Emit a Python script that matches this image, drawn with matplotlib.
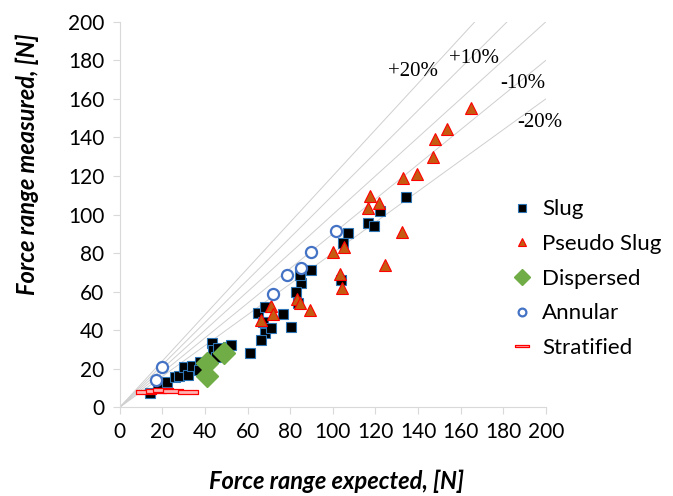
import numpy as np
import matplotlib
matplotlib.use("Agg")
import matplotlib.pyplot as plt

# values
slug_x = [14, 18, 22, 26, 28, 30, 32, 34, 37.5, 37, 43.5, 43.7, 45.4, 46, 50.6, 52.4, 61,
          64.8, 67.1, 68.1, 66.5, 68.1, 71.2, 76.4, 80.6, 90, 85.3, 82.6, 83.7, 84.5, 104,
          134.3, 122, 116.6, 119.2, 107, 104.8]
slug_y = [7.4, 9.9, 13.1, 15.6, 16.1, 20.9, 16.6, 21.5, 23.5, 19.2, 33.1, 29.6, 26.1, 30.6,
          31.3, 32.2, 27.9, 48.8, 44.3, 38.4, 34.8, 52.1, 41, 48.3, 41.7, 71.2, 64.3, 59.9,
          53.9, 68.6, 66, 109.2, 101.8, 95.7, 94, 90.2, 85]

pseudo_x = [70.8, 71.7, 66.5, 83.4, 84.8, 89.5, 103.3, 104.4, 133, 117.4, 121.7, 116.6,
            132.5, 99.9, 105.2, 124.4, 164.8, 153.4, 147.9, 147.1, 139.3]
pseudo_y = [52.5, 48.2, 45.2, 55.9, 54.2, 50.4, 69.1, 61.7, 118.8, 109.6, 106.1, 103.2,
            90.8, 80.7, 83, 73.8, 155.2, 144.3, 139.1, 130, 121]

dispersed_x = [41, 41, 49]
dispersed_y = [23, 16, 28]

annular_x = [17, 20, 71.7, 78.7, 85.3, 90, 101.7]
annular_y = [14, 21, 58.5, 68.6, 72.4, 80.7, 91.4]

strat_x = [12.5, 17, 20.5, 25, 32]
strat_y = [8, 8.5, 9, 8.6, 8]

band_slopes = [1.2, 1.1, 1.0, 0.9, 0.8]
band_labels = ["+20%", "+10%", "-10%", "-20%"]

fig = plt.figure(figsize=(6.73, 4.96), dpi=100)
ax = fig.add_axes([0.178, 0.179, 0.633, 0.777])

for s in band_slopes:
    xs = np.array([0, 200])
    ax.plot(xs, s * xs, color="#cfcfcf", lw=0.7, zorder=1)

dash = [(-1, -0.22), (1, -0.22), (1, 0.22), (-1, 0.22), (-1, -0.22)]
ax.plot(slug_x, slug_y, ls="none", marker="s", ms=7.5, mfc="black", mec="#2e75b6",
        mew=0.8, label="Slug", zorder=3)
ax.plot(pseudo_x, pseudo_y, ls="none", marker="^", ms=9, mfc="#c55a11", mec="#ff0000",
        mew=0.8, label="Pseudo Slug", zorder=3)
ax.plot(dispersed_x, dispersed_y, ls="none", marker="D", ms=11, mfc="#70ad47", mec="#70ad47",
        label="Dispersed", zorder=3)
ax.plot(annular_x, annular_y, ls="none", marker="o", ms=8, mfc="white", mec="#4472c4",
        mew=1.6, label="Annular", zorder=4)
ax.plot(strat_x, strat_y, ls="none", marker=dash, ms=14, mfc="#ffb3b3", mec="#ff0000",
        mew=0.9, label="Stratified", zorder=4)

ax.set_xlim(0, 200)
ax.set_ylim(0, 200)
ax.set_xticks(range(0, 201, 20))
ax.set_yticks(range(0, 201, 20))
for sp in ["top", "right"]:
    ax.spines[sp].set_visible(False)
for sp in ["left", "bottom"]:
    ax.spines[sp].set_color("#d9d9d9")
ax.tick_params(direction="out", length=5, color="#d9d9d9", labelsize=15, pad=6)
for lab in ax.get_xticklabels() + ax.get_yticklabels():
    lab.set_fontfamily("Lato")

ax.set_xlabel("Force range expected, [N]", fontfamily="Lato", fontsize=17,
              fontweight="bold", style="italic")
ax.set_ylabel("Force range measured, [N]", fontfamily="Lato", fontsize=17,
              fontweight="bold", style="italic")
ax.xaxis.set_label_coords(0.508, -0.163)
ax.yaxis.set_label_coords(-0.19, 0.63)

label_pos = [(137.5, 174), (166.5, 181), (189, 168), (197, 148)]
for (lx, ly), t in zip(label_pos, band_labels):
    ax.text(lx, ly, t, fontfamily="Liberation Serif", fontsize=15, ha="center", va="center")

leg = fig.legend(loc="upper left", bbox_to_anchor=(0.758, 0.598), frameon=False,
                 prop={"family": "Lato", "size": 16}, handletextpad=0.35, borderpad=0,
                 borderaxespad=0, labelspacing=0.66, handlelength=1.1, markerscale=0.7)

fig.savefig("out.png", dpi=100)
